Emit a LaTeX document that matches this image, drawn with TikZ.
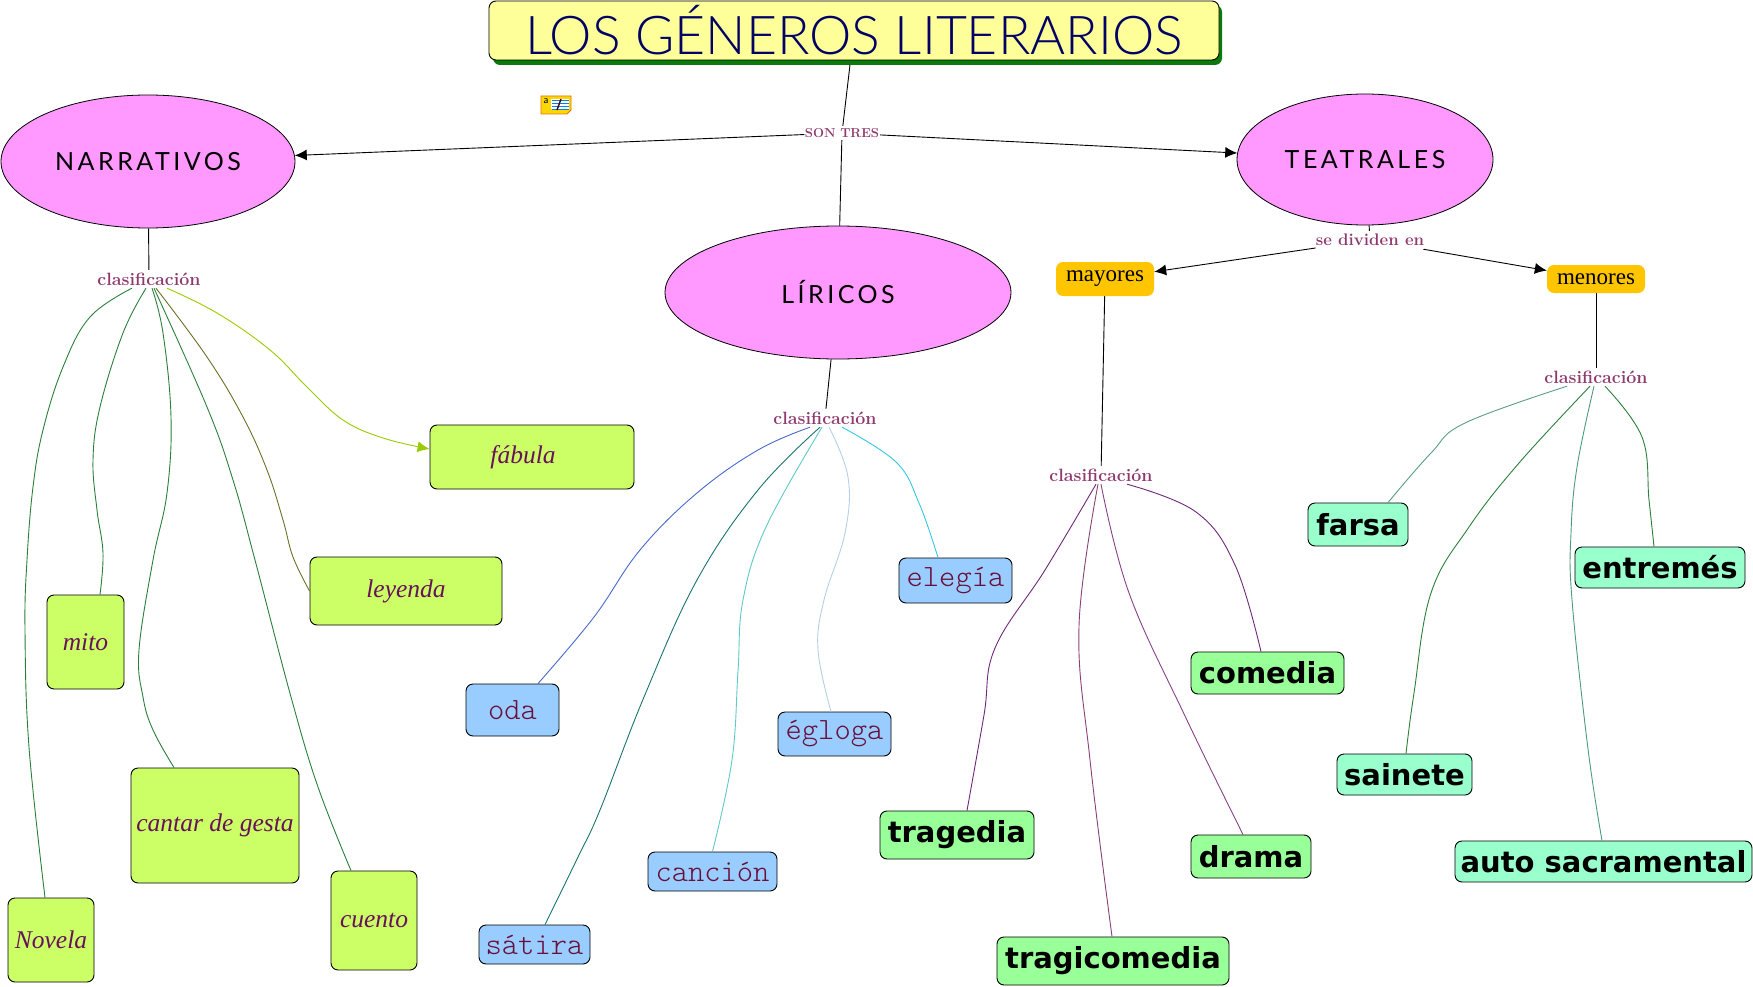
\documentclass[tikz,border=0pt]{standalone}
\usepackage{fontspec}
\usetikzlibrary{arrows.meta,shapes.geometric,backgrounds}
\newfontfamily\papfont{Lato Light}
\newfontfamily\capfont[LetterSpace=14]{Lato}
\newfontfamily\chanfont{Liberation Serif}
\newfontfamily\simfont{Latin Modern Mono Light}
\newfontfamily\boldfont{DejaVu Sans}
\newfontfamily\timesfont{Liberation Serif}
\definecolor{cTitle}{HTML}{FFFF99}
\definecolor{cTitleT}{HTML}{000066}
\definecolor{cShadow}{HTML}{0B7A0B}
\definecolor{cEll}{HTML}{FF99FF}
\definecolor{cLink}{HTML}{8E3A6E}
\definecolor{cLeaf}{HTML}{CCFF66}
\definecolor{cBlue}{HTML}{99CCFF}
\definecolor{cGreen}{HTML}{99FF99}
\definecolor{cAqua}{HTML}{99FFCC}
\definecolor{cOrange}{HTML}{FFC600}
\definecolor{cLeafT}{HTML}{66115A}
\definecolor{cBlueT}{HTML}{6A0F3A}
\definecolor{cCurve}{HTML}{2A7F3A}
\tikzset{
 x=1pt,y=-1pt,
 ln/.style={line width=0.9pt,black},
 arr/.style={ln,-{Latex[length=12pt,width=11pt]}},
 cv/.style={line width=0.9pt},
 ell/.style={ellipse,draw=black,line width=0.8pt,fill=cEll,inner sep=0pt},
 lbl/.style={fill=white,inner sep=0pt,text=cLink,minimum height=18pt,font=\fontsize{17.8}{18}\selectfont\bfseries},
 box/.style={rectangle,rounded corners=7pt,draw=black,line width=0.9pt,inner sep=0pt},
 leaf/.style={box,fill=cLeaf,text=cLeafT,font=\chanfont\itshape\fontsize{25.5}{26}\selectfont},
 blue/.style={box,fill=cBlue,text=cBlueT,font=\simfont\fontsize{31}{31}\selectfont},
 grn/.style={box,fill=cGreen,text=black,font=\boldfont\bfseries\fontsize{29}{29}\selectfont},
 aqu/.style={box,fill=cAqua,text=black,font=\boldfont\bfseries\fontsize{29}{29}\selectfont},
 org/.style={rectangle,rounded corners=7pt,fill=cOrange,text=black,inner sep=0pt,font=\timesfont\fontsize{23}{23}\selectfont},
 ellT/.style={font=\capfont\fontsize{25}{25}\selectfont,text=black},
 cs/.style={smooth,tension=0.65},
}
\begin{document}
\begin{tikzpicture}
\useasboundingbox (0,0) rectangle (1753,987);
% title
\fill[cShadow,rounded corners=7pt] (493,5) rectangle (1222,65);
\node[box,fill=cTitle,text=cTitleT,minimum width=730pt,minimum height=59pt,font=\papfont\fontsize{53.5}{54}\selectfont] (title) at (854,30.5) {LOS GÉNEROS LITERARIOS};
% ellipses
\node[ell,minimum width=294pt,minimum height=133pt,ellT] (narr) at (148,161.5) {NARRATIVOS};
\node[ell,minimum width=256pt,minimum height=131pt,ellT] (teat) at (1365,159.5) {TEATRALES};
\node[ell,minimum width=346pt,minimum height=133pt,ellT] (lir) at (838,292.5) {LÍRICOS};
% link labels
\node[lbl,minimum width=75pt,minimum height=14pt,font=\fontsize{13}{13}\selectfont\bfseries] (son) at (842,133) {SON TRES};
\node[lbl] (c1) at (149,279) {clasificación};
\node[lbl] (c2) at (825,418) {clasificación};
\node[lbl] (c3) at (1101,475) {clasificación};
\node[lbl] (c4) at (1596,377) {clasificación};
\node[lbl,minimum width=102pt,font=\fontsize{16.8}{17}\selectfont\bfseries] (sd) at (1370,240) {se dividen en};
% orange
\node[org,minimum width=98pt,minimum height=34pt] (may) at (1105,279) {mayores};
\node[org,minimum width=98pt,minimum height=28pt] (men) at (1596,279) {menores};
% narrative
\node[leaf,minimum width=204pt,minimum height=64pt] (fab) at (532,457) {fábula\hbox to 18pt{}};
\node[leaf,minimum width=192pt,minimum height=68pt] (ley) at (406,591) {leyenda};
\node[leaf,minimum width=77pt,minimum height=94pt] (mito) at (85.5,642) {mito};
\node[leaf,minimum width=168pt,minimum height=115pt] (cant) at (215,825.5) {cantar de gesta};
\node[leaf,minimum width=86pt,minimum height=99pt] (cuen) at (374,920.5) {cuento};
\node[leaf,minimum width=86pt,minimum height=84pt] (nov) at (51,940) {Novela};
% lyric
\node[blue,minimum width=93pt,minimum height=52pt] (oda) at (512.5,710) {oda};
\node[blue,minimum width=111pt,minimum height=39pt] (sat) at (534.5,944.5) {sátira};
\node[blue,minimum width=129pt,minimum height=39pt] (can) at (712.5,871.5) {canción};
\node[blue,minimum width=113pt,minimum height=44pt] (egl) at (834.5,734) {égloga};
\node[blue,minimum width=113pt,minimum height=45pt] (ele) at (955.5,580.5) {elegía};
% mayores
\node[grn,minimum width=154pt,minimum height=48pt] (tra) at (957,835) {tragedia};
\node[grn,minimum width=232pt,minimum height=48pt] (tri) at (1113,961) {tragicomedia};
\node[grn,minimum width=120pt,minimum height=43pt] (dra) at (1251,856.5) {drama};
\node[grn,minimum width=153pt,minimum height=42pt] (com) at (1267.5,673) {comedia};
% menores
\node[aqu,minimum width=100pt,minimum height=43pt] (far) at (1358,524.5) {farsa};
\node[aqu,minimum width=170pt,minimum height=41pt] (ent) at (1660,567.5) {entremés};
\node[aqu,minimum width=135pt,minimum height=41pt] (sai) at (1404.5,774.5) {sainete};
\node[aqu,minimum width=297pt,minimum height=41pt] (aut) at (1603.5,861.5) {auto sacramental};
% note icon
\fill[draw=orange!90!black,fill=yellow!75!orange,line width=0.8pt] (541,96) -- (571,96) -- (571,110) -- (567,114) -- (541,114) -- cycle;
\fill[white] (551,99) rectangle (569,109);
\foreach \yy in {100,103,106,109}{\draw[blue!50!cyan,line width=0.8pt] (552,\yy) -- (569,\yy);}
\draw[black!70!red,line width=1.4pt] (561,99) -- (557,110);
\node[inner sep=0pt,font=\fontsize{11}{11}\selectfont\sffamily] (noteA) at (546,101) {a};
% connectors
\begin{scope}[on background layer]
\draw[ln] (title) -- (son);
\draw[ln] (son) -- (lir);
\draw[arr] (son) -- (narr);
\draw[arr] (son) -- (teat);
\draw[ln] (narr) -- (c1);
\draw[ln] (lir) -- (c2);
\draw[ln] (teat) -- (sd);
\draw[arr] (sd) -- (may);
\draw[arr] (sd) -- (men);
\draw[ln] (may) -- (c3);
\draw[ln] (men) -- (c4);
\end{scope}
\draw[cv,color=cCurve] plot[cs] coordinates {([xshift=-17pt]c1.south) (90,317) (63,367) (43,430) (33,487) (27,560) (25,630) (29,747) ([xshift=-6pt]nov.north)};
\draw[cv,color=cCurve] plot[cs] coordinates {([xshift=-3pt]c1.south) (123,333) (100,407) (93,460) (97,510) (103,553) ([xshift=14.5pt]mito.north)};
\draw[cv,color=cCurve] plot[cs] coordinates {([xshift=3pt]c1.south) (163,333) (171,417) (167,493) (153,560) (139,650) (143,697) (153,730) ([xshift=-41pt]cant.north)};
\draw[cv,color=cCurve] plot[cs] coordinates {([xshift=5pt]c1.south) (207,407) (233,480) (255,560) (291,697) (318,787) ([xshift=-23pt]cuen.north)};
\draw[cv,color=olive!85!green!70!black] plot[cs] coordinates {([xshift=7pt]c1.south) (207,357) (243,417) (267,470) (283,520) (293,557) (ley.west)};
\draw[cv,color={rgb,255:red,153;green,204;blue,0},-{Latex[length=12pt,width=11pt]}] plot[cs] coordinates {([xshift=18pt]c1.south) (217,313) (270,350) (307,387) (343,420) (383,438) ([yshift=8pt]fab.west)};
\draw[cv,color={rgb,255:red,70;green,105;blue,205}] plot[cs] coordinates {([xshift=-15pt]c2.south) (758,450) (697,493) (640,550) (594,617) ([xshift=25.5pt]oda.north)};
\draw[cv,color={rgb,255:red,25;green,115;blue,115}] plot[cs] coordinates {([xshift=-5pt]c2.south) (758,490) (697,580) (644,697) (600,810) (578,857) ([xshift=10.5pt]sat.north)};
\draw[cv,color={rgb,255:red,95;green,200;blue,200}] plot[cs] coordinates {([xshift=-3pt]c2.south) (766,527) (743,600) (738,671) (732,760) (can.north)};
\draw[cv,color={rgb,255:red,180;green,208;blue,232}] plot[cs] coordinates {([xshift=4pt]c2.south) (848,477) (845,533) (824,600) (818,650) ([xshift=-3.5pt]egl.north)};
\draw[cv,color={rgb,255:red,50;green,200;blue,225}] plot[cs] coordinates {([xshift=17pt]c2.south) (896,462) (919,503) ([xshift=-17.5pt]ele.north)};
\draw[cv,color={rgb,255:red,110;green,40;blue,120}] plot[cs] coordinates {([xshift=-5pt]c3.south) (1045,570) (995,648) (984,715) ([xshift=10pt]tra.north)};
\draw[cv,color={rgb,255:red,135;green,65;blue,120}] plot[cs] coordinates {([xshift=-3pt]c3.south) (1079,626) (1090,760) ([xshift=-1pt]tri.north)};
\draw[cv,color={rgb,255:red,135;green,65;blue,135}] plot[cs] coordinates {(c3.south) (1129,593) (1185,716) ([xshift=-8pt]dra.north)};
\draw[cv,color={rgb,255:red,110;green,40;blue,120}] plot[cs] coordinates {([xshift=26pt]c3.south) (1196,512) (1235,565) ([xshift=-6.5pt]com.north)};
\draw[cv,color={rgb,255:red,90;green,155;blue,135}] plot[cs] coordinates {([xshift=-29pt]c4.south) (1465,423) (1431,453) ([xshift=30pt]far.north)};
\draw[cv,color=cCurve] plot[cs] coordinates {([xshift=-6pt]c4.south) (1519,463) (1469,527) (1431,593) (1414,693) ([xshift=1.5pt]sai.north)};
\draw[cv,color={rgb,255:red,75;green,155;blue,125}] plot[cs] coordinates {([xshift=-2pt]c4.south) (1577,467) (1571,533) (1572,600) (1588,749) ([xshift=-1.5pt]aut.north)};
\draw[cv,color=cCurve] plot[cs] coordinates {([xshift=9pt]c4.south) (1642,437) (1649,500) ([xshift=-6pt]ent.north)};
\end{tikzpicture}
\end{document}
